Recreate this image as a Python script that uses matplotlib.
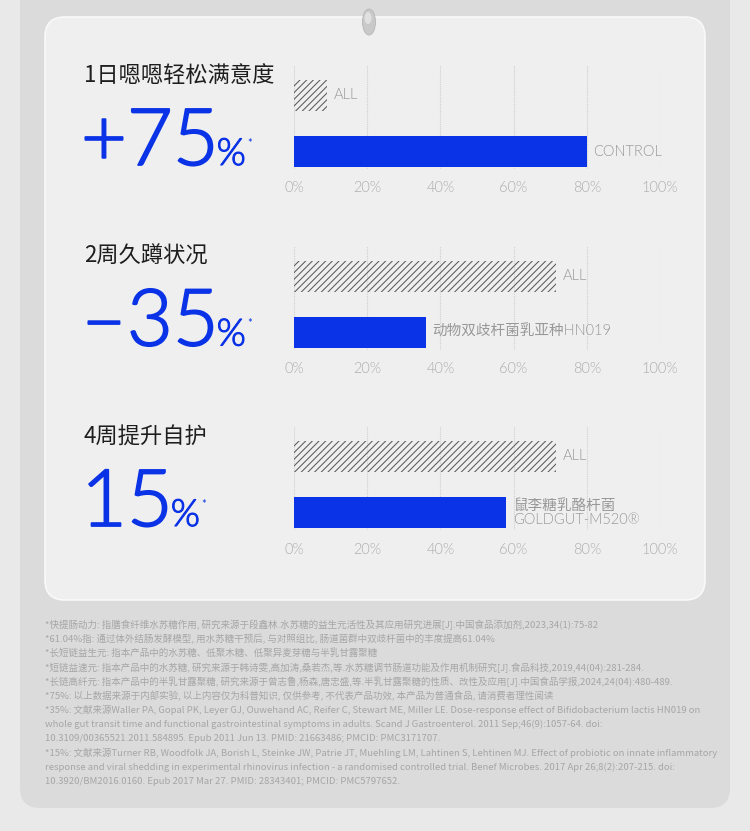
import matplotlib
matplotlib.use("Agg")
import matplotlib.pyplot as plt
import matplotlib.patheffects as pe
from matplotlib.patches import FancyBboxPatch, Ellipse

# ---------------- data ----------------
titles = ['1日嗯嗯轻松满意度', '2周久蹲状况', '4周提升自护']
big_numbers = ['+75', '–35', '15']
all_values = [9, 71.5, 71.5]
product_values = [80, 36, 58]
all_label = 'ALL'
product_labels = ['CONTROL', '动物双歧杆菌乳亚种HN019', '鼠李糖乳酪杆菌\nGOLDGUT-M520®']
tick_values = [0, 20, 40, 60, 80, 100]
tick_labels = ['0%', '20%', '40%', '60%', '80%', '100%']
footnotes = [
    '*快提肠动力: 指膳食纤维水苏糖作用, 研究来源于段鑫林.水苏糖的益生元活性及其应用研究进展[J].中国食品添加剂,2023,34(1):75-82',
    '*61.04%指: 通过体外结肠发酵模型, 用水苏糖干预后, 与对照组比, 肠道菌群中双歧杆菌中的丰度提高61.04%',
    '*长短链益生元: 指本产品中的水苏糖、低聚木糖、低聚异麦芽糖与半乳甘露聚糖',
    '*短链益速元: 指本产品中的水苏糖, 研究来源于韩诗雯,高加涛,桑若杰,等.水苏糖调节肠道功能及作用机制研究[J].食品科技,2019,44(04):281-284.',
    '*长链高纤元: 指本产品中的半乳甘露聚糖, 研究来源于曾志鲁,杨森,唐忠盛,等.半乳甘露聚糖的性质、改性及应用[J].中国食品学报,2024,24(04):480-489.',
    '*75%: 以上数据来源于内部实验, 以上内容仅为科普知识, 仅供参考, 不代表产品功效, 本产品为普通食品, 请消费者理性阅读',
    '*35%: 文献来源Waller PA, Gopal PK, Leyer GJ, Ouwehand AC, Reifer C, Stewart ME, Miller LE. Dose-response effect of Bifidobacterium lactis HN019 on',
    'whole gut transit time and functional gastrointestinal symptoms in adults. Scand J Gastroenterol. 2011 Sep;46(9):1057-64. doi:',
    '10.3109/00365521.2011.584895. Epub 2011 Jun 13. PMID: 21663486; PMCID: PMC3171707.',
    '*15%: 文献来源Turner RB, Woodfolk JA, Borish L, Steinke JW, Patrie JT, Muehling LM, Lahtinen S, Lehtinen MJ. Effect of probiotic on innate inflammatory',
    'response and viral shedding in experimental rhinovirus infection - a randomised controlled trial. Benef Microbes. 2017 Apr 26;8(2):207-215. doi:',
    '10.3920/BM2016.0160. Epub 2017 Mar 27. PMID: 28343401; PMCID: PMC5797652.',
]

# ---------------- style ----------------
BLUE = '#0a32e6'
CJK = ['Noto Sans CJK SC', 'DejaVu Sans']
NUM = ['Lato', 'DejaVu Sans']
MIX = ['Lato', 'Noto Sans CJK SC', 'DejaVu Sans']
plt.rcParams['font.family'] = CJK
plt.rcParams['hatch.linewidth'] = 0.75

W, H = 750, 831
fig = plt.figure(figsize=(W / 100, H / 100), dpi=100)
fig.patch.set_facecolor('#e9e9e9')

bg = fig.add_axes([0, 0, 1, 1])
bg.set_xlim(0, W)
bg.set_ylim(H, 0)
bg.axis('off')

# footnote card
bg.add_patch(FancyBboxPatch((20, -40), 710, 848, boxstyle='round,pad=0,rounding_size=20',
                            fc='#dbdbdb', ec='none', zorder=0))
# main card
bg.add_patch(FancyBboxPatch((45, 17), 660, 583, boxstyle='round,pad=0,rounding_size=20',
                            fc='#efefef', ec='#f9f9f9', lw=1.2, zorder=1))
# hanging hole
bg.add_patch(Ellipse((369, 22), 13, 26, fc='#c9c9c9', ec='#b5b5b5', lw=0.6, zorder=2))
bg.add_patch(Ellipse((368, 18), 7, 12, fc='#e0e0e0', ec='none', zorder=2))

thick = [pe.withStroke(linewidth=1.3, foreground=BLUE)]

PANEL_STEP = 180.5
texts_big = []
for i in range(3):
    off = PANEL_STEP * i
    # title
    bg.text(84, 76 + off, titles[i], fontsize=16, color='#1e1e1e', va='center', ha='left',
            family=CJK, zorder=3)
    t = bg.text(81, 165 + off, big_numbers[i], fontsize=57, color=BLUE, va='baseline',
                ha='left', family=NUM, fontweight=300, zorder=3, path_effects=thick)
    texts_big.append((t, 165 + off))

    # bar axes
    all_top = 80 + off
    ax_top = all_top - 15
    ax_bot = all_top + 56 + 31 + 2
    ax = fig.add_axes([294 / W, 1 - ax_bot / H, 366 / W, (ax_bot - ax_top) / H])
    ax.set_facecolor('none')
    unit = 56.0
    ax.set_xlim(0, 100)
    ax.set_ylim(1 + (ax_bot - (all_top + 56 + 15.5)) / unit, -(15 + 15.5) / unit)
    bh = 31 / unit
    ax.barh([0], [all_values[i]], height=bh, color='none', edgecolor='#5a5a5a',
            hatch='/////', lw=0, zorder=2)
    ax.barh([1], [product_values[i]], height=bh, color=BLUE, lw=0, zorder=2)
    for s in ax.spines.values():
        s.set_visible(False)
    ax.set_yticks([])
    ax.set_xticks(tick_values)
    ax.set_xticklabels(tick_labels, family=NUM, fontsize=10.5, color='#adadad',
                       fontweight=300)
    ax.tick_params(axis='x', length=0, pad=9)
    for v in tick_values:
        ax.axvline(v, color='#cfcfcf', lw=0.8, ls=(0, (1, 1)), zorder=1)
    ax.text(all_values[i] + 2, 0, all_label, fontsize=10.5, color='#989898', va='center',
            ha='left', family=NUM, fontweight=300)
    ax.text(product_values[i] + 1.8, 1, product_labels[i], fontsize=10.5, color='#989898',
            va='center', ha='left', family=MIX, fontweight=300, linespacing=1.0)

# chain "%" and "*" after big numbers
fig.canvas.draw()
r = fig.canvas.get_renderer()
inv = bg.transData.inverted()
for t, base in texts_big:
    bb = t.get_window_extent(r)
    x1 = inv.transform((bb.x1, bb.y0))[0]
    p = bg.text(x1 - 2, base, '%', fontsize=27, color=BLUE, va='baseline', ha='left',
                family=NUM, fontweight=300, zorder=3,
                path_effects=[pe.withStroke(linewidth=0.8, foreground=BLUE)])
    bb2 = p.get_window_extent(r)
    x2 = inv.transform((bb2.x1, bb2.y0))[0]
    bg.text(x2 + 1, base - 27, '*', fontsize=8, color=BLUE, va='top', ha='left',
            family=NUM, zorder=3)

# footnotes
for k, line in enumerate(footnotes):
    bg.text(45, 625 + 14.2 * k, line, fontsize=6.85, color='#a6a6a6', va='center',
            ha='left', family=CJK, zorder=3)

fig.savefig('out.png', dpi=100, facecolor=fig.get_facecolor())
